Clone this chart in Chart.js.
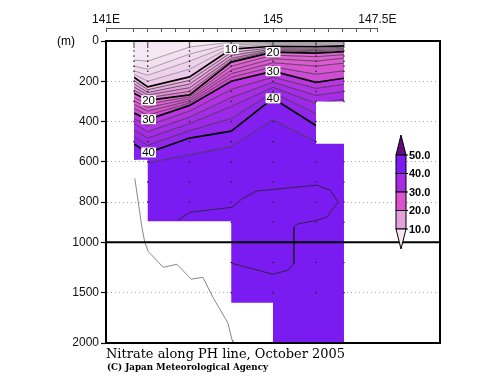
<!DOCTYPE html>
<html>
<head>
<meta charset="utf-8">
<script src="https://cdn.jsdelivr.net/npm/chart.js@4.4.0/dist/chart.umd.min.js"></script>
<style>
  html, body { margin: 0; padding: 0; background: #fff; }
</style>
</head>
<body>
<canvas id="section" width="500" height="387"></canvas>
<script>
// stations along the PH line (deg E)
var stationLon = [141.67, 142.0, 143.0, 144.0, 145.0, 146.03, 146.7];

// nitrate contour levels and their depth (m) at each station
var contourLevels = [2, 4, 6, 8, 10, 12, 14, 16, 18, 20, 22, 24, 26, 28, 30, 32, 34, 36, 38, 40, 42];
var contourDepths = [
  [95, 100, 30, 6, 3, 3, 3],
  [125, 140, 65, 12, 7, 7, 6],
  [148, 170, 100, 20, 12, 12, 10],
  [165, 200, 140, 30, 18, 18, 15],
  [180, 228, 178, 40, 26, 28, 24],
  [196, 242, 196, 57, 33, 36, 31],
  [212, 256, 214, 72, 39, 42, 37],
  [228, 268, 232, 86, 44, 48, 43],
  [244, 282, 250, 96, 49, 54, 48],
  [260, 295, 268, 105, 55, 60, 53],
  [280, 312, 278, 125, 70, 78, 68],
  [298, 330, 288, 145, 88, 100, 85],
  [315, 348, 298, 162, 108, 125, 110],
  [335, 368, 308, 180, 128, 165, 148],
  [358, 390, 320, 200, 150, 205, 185],
  [385, 420, 348, 240, 180, 235, 215],
  [410, 450, 378, 280, 205, 270, 250],
  [440, 482, 410, 325, 230, 310, 290],
  [475, 518, 445, 385, 256, 362, 350],
  [512, 555, 482, 448, 285, 420, 420],
  [588, 605, 565, 525, 392, 500, 500]
];

// deep closed contour and the stray line in the empty area
var loopLon = [142.72, 143.01, 144.01, 144.28, 144.61, 146.05, 146.37, 146.56, 146.29, 146.05, 145.57, 145.50, 145.50, 145.36, 145.0, 144.01];
var loopDepth = [891, 851, 826, 781, 745, 716, 741, 800, 874, 891, 910, 924, 1208, 1277, 1317, 1208];
var strayLon = [141.69, 141.86, 141.93, 142.01, 142.37, 142.70, 143.04, 143.32, 143.56, 143.92, 144.02, 144.04];
var strayDepth = [682, 925, 1000, 1089, 1248, 1218, 1366, 1347, 1545, 1802, 1970, 2000];

// where there is data (lon range x depth range)
var coverLon0 = [141.67, 142.0, 144.0, 145.0, 146.03, 146.03];
var coverLon1 = [142.0, 144.0, 145.0, 146.03, 146.7, 146.7];
var coverTop = [0, 0, 0, 0, 0, 510];
var coverBottom = [590, 895, 1600, 2000, 300, 2000];

// bottle depths
var sampleDepths = [0, 10, 20, 30, 50, 75, 100, 125, 150, 200, 250, 300, 400, 500, 600, 700, 800, 900, 1200, 1500];

// axes
var lonTicks = [141, 141.6667, 142, 142.3333, 142.6667, 143, 143.3333, 143.6667, 144, 144.3333, 144.6667, 145,
  145.3333, 145.6667, 146, 146.3333, 146.6667, 147, 147.3333, 147.5];
var lonLabelAt = [141, 145, 147.5];
var lonLabels = ['141E', '145', '147.5E'];
var depthTicks = [0, 200, 400, 600, 800, 1000, 1500, 2000];
var dottedDepths = [200, 400, 600, 800, 1500];

// contour labels
var labelLevels = [10, 20, 30, 40, 20, 30, 40];
var labelLon = [144.0, 145.0, 145.0, 145.0, 142.02, 142.02, 142.02];

// colour bar
var cbLabels = ['50.0', '40.0', '30.0', '20.0', '10.0'];

var bandColors = ['#f6e7f4', '#f4e0f1', '#f2d9ee', '#f0d1eb', '#eec9e9', '#ebb8e4', '#e9aae1', '#e79cdd',
  '#e58ed9', '#e380d6', '#e168d3', '#df60d2', '#dc5ad2', '#d754d3', '#cf4dd4', '#b936e1', '#b032e3',
  '#a62de6', '#9c29e8', '#9226eb', '#8420ef'];
var deepColor = '#7a1bf2';
var cbColors = ['#7b1af2', '#a92ae3', '#dd52cf', '#e4a2dc'];

// depth axis is squeezed by half below 1000 m
function toAxis(d) { return d <= 1000 ? d : 1000 + (d - 1000) / 2; }
function fromAxis(v) { return v <= 1000 ? v : 1000 + (v - 1000) * 2; }

function depthAt(level, lon) {
  var row = contourDepths[contourLevels.indexOf(level)];
  for (var j = 0; j < stationLon.length - 1; j++) {
    if (lon >= stationLon[j] && lon <= stationLon[j + 1]) {
      var t = (lon - stationLon[j]) / (stationLon[j + 1] - stationLon[j]);
      return row[j] + t * (row[j + 1] - row[j]);
    }
  }
  return row[0];
}

function covered(lon, d) {
  for (var i = 0; i < coverLon0.length; i++) {
    if (lon >= coverLon0[i] && lon <= coverLon1[i] && d >= coverTop[i] && d <= coverBottom[i]) return true;
  }
  return false;
}

var datasets = [];
datasets.push({
  label: 'surface',
  data: stationLon.map(function (lon) { return {x: lon, y: toAxis(0)}; }),
  borderColor: 'rgba(0,0,0,0)', borderWidth: 0, pointRadius: 0, fill: false, order: 3
});
contourLevels.forEach(function (lev, i) {
  var thick = lev % 10 === 0;
  datasets.push({
    label: 'NO3 ' + lev,
    data: stationLon.map(function (lon, j) { return {x: lon, y: toAxis(contourDepths[i][j])}; }),
    fill: '-1',
    backgroundColor: bandColors[i],
    borderColor: thick ? '#000' : (lev < 10 ? '#808080' : '#2a2a2a'),
    borderWidth: thick ? 1.7 : 0.7,
    pointRadius: 0,
    order: 3
  });
});
datasets.push({
  label: 'bottom',
  data: stationLon.map(function (lon) { return {x: lon, y: toAxis(2000)}; }),
  fill: '-1', backgroundColor: deepColor,
  borderColor: 'rgba(0,0,0,0)', borderWidth: 0, pointRadius: 0, order: 3
});

var samples = [];
stationLon.forEach(function (lon) {
  sampleDepths.forEach(function (d) {
    if (covered(lon, d)) samples.push({x: lon, y: toAxis(d)});
  });
});
datasets.push({
  label: 'bottles', data: samples, showLine: false,
  pointRadius: 0.8, pointBackgroundColor: '#222', pointBorderWidth: 0, order: 2
});
datasets.push({
  label: 'deep', data: loopLon.map(function (lon, i) { return {x: lon, y: toAxis(loopDepth[i])}; }),
  borderColor: '#222', borderWidth: 0.8, pointRadius: 0, fill: false, order: 1
});
datasets.push({
  label: 'stray', data: strayLon.map(function (lon, i) { return {x: lon, y: toAxis(strayDepth[i])}; }),
  borderColor: '#7a7a7a', borderWidth: 0.9, pointRadius: 0, fill: false, order: 1
});

// fills only inside the sampled area
var coverClip = {
  id: 'coverClip',
  beforeDatasetsDraw: function (chart) {
    var ctx = chart.ctx, xs = chart.scales.x, ys = chart.scales.y;
    ctx.save();
    ctx.beginPath();
    for (var i = 0; i < coverLon0.length; i++) {
      var x0 = xs.getPixelForValue(coverLon0[i]), x1 = xs.getPixelForValue(coverLon1[i]);
      var y0 = ys.getPixelForValue(toAxis(coverTop[i])), y1 = ys.getPixelForValue(toAxis(coverBottom[i]));
      ctx.rect(x0, y0, x1 - x0, y1 - y0);
    }
    ctx.clip();
  },
  afterDatasetDraw: function (chart, args) {
    if (args.index === 0) chart.ctx.restore();
  }
};

function fitText(ctx, text, font, x, y, width) {
  ctx.save();
  ctx.font = font;
  var w = ctx.measureText(text).width;
  ctx.translate(x, y);
  ctx.scale(width / w, 1);
  ctx.textAlign = 'left';
  ctx.textBaseline = 'alphabetic';
  ctx.fillStyle = '#000';
  ctx.fillText(text, 0, 0);
  ctx.restore();
}

var decorations = {
  id: 'decorations',
  afterDatasetsDraw: function (chart) {
    var ctx = chart.ctx, xs = chart.scales.x, ys = chart.scales.y, a = chart.chartArea;
    // 1000 m break line
    var yb = ys.getPixelForValue(toAxis(1000));
    ctx.save();
    ctx.strokeStyle = '#000';
    ctx.lineWidth = 2;
    ctx.beginPath();
    ctx.moveTo(a.left, yb);
    ctx.lineTo(a.right, yb);
    ctx.stroke();
    // contour labels
    ctx.font = '11.5px "Liberation Sans", Arial, sans-serif';
    ctx.textAlign = 'center';
    ctx.textBaseline = 'middle';
    for (var i = 0; i < labelLevels.length; i++) {
      var px = xs.getPixelForValue(labelLon[i]);
      var py = ys.getPixelForValue(toAxis(depthAt(labelLevels[i], labelLon[i])));
      var txt = String(labelLevels[i]);
      var w = ctx.measureText(txt).width + 2;
      ctx.fillStyle = '#fff';
      ctx.fillRect(px - w / 2, py - 5, w, 10);
      ctx.fillStyle = '#000';
      ctx.fillText(txt, px, py + 0.5);
    }
    ctx.restore();
  },
  afterDraw: function (chart) {
    var ctx = chart.ctx, xs = chart.scales.x;
    ctx.save();
    // longitude axis line above the frame
    var ya = xs.bottom - 13 + 0.5;
    ctx.strokeStyle = '#555';
    ctx.lineWidth = 1;
    ctx.beginPath();
    ctx.moveTo(xs.getPixelForValue(141), ya);
    ctx.lineTo(xs.getPixelForValue(147.5), ya);
    ctx.stroke();
    // unit
    ctx.fillStyle = '#000';
    ctx.font = '12px "Liberation Sans", Arial, sans-serif';
    ctx.textAlign = 'center';
    ctx.textBaseline = 'middle';
    ctx.fillText('(m)', 66, 42);
    // colour bar
    var left = 396, right = 406, top = 155, step = 18.5, tip = 20, mid = (left + right) / 2;
    ctx.strokeStyle = '#000';
    ctx.lineWidth = 1;
    ctx.beginPath();
    ctx.moveTo(left, top); ctx.lineTo(mid, top - tip); ctx.lineTo(right, top); ctx.closePath();
    ctx.fillStyle = '#65097f'; ctx.fill(); ctx.stroke();
    for (var i = 0; i < cbColors.length; i++) {
      ctx.fillStyle = cbColors[i];
      ctx.fillRect(left, top + i * step, right - left, step);
      ctx.strokeRect(left, top + i * step, right - left, step);
    }
    var bot = top + cbColors.length * step;
    ctx.beginPath();
    ctx.moveTo(left, bot); ctx.lineTo(mid, bot + tip); ctx.lineTo(right, bot); ctx.closePath();
    ctx.fillStyle = '#f6e6f3'; ctx.fill(); ctx.stroke();
    ctx.font = 'bold 11px "Liberation Sans", Arial, sans-serif';
    ctx.textAlign = 'left';
    ctx.fillStyle = '#000';
    for (var k = 0; k < cbLabels.length; k++) {
      var yy = top + k * step;
      ctx.beginPath(); ctx.moveTo(right, yy); ctx.lineTo(right + 2, yy); ctx.stroke();
      ctx.fillText(cbLabels[k], right + 3, yy + 0.5);
    }
    ctx.restore();
    // captions
    fitText(ctx, 'Nitrate along PH line, October 2005', '13px "DejaVu Serif", serif', 106, 357.5, 239);
    fitText(ctx, '(C) Japan Meteorological Agency', 'bold 10px "DejaVu Serif", serif', 107, 370, 161);
  }
};

Chart.defaults.font.family = '"Liberation Sans", Arial, sans-serif';

new Chart(document.getElementById('section'), {
  type: 'line',
  data: { datasets: datasets },
  options: {
    responsive: false,
    animation: false,
    events: [],
    layout: { padding: 0 },
    plugins: { legend: { display: false }, tooltip: { enabled: false } },
    scales: {
      x: {
        type: 'linear', position: 'top', min: 141, max: 149,
        afterBuildTicks: function (s) { s.ticks = lonTicks.map(function (v) { return {value: v}; }); },
        afterFit: function (s) { s.height = 41; },
        ticks: {
          autoSkip: false, maxRotation: 0, padding: 1, color: '#111',
          font: { size: 12 },
          callback: function (v) {
            for (var i = 0; i < lonLabelAt.length; i++) {
              if (Math.abs(v - lonLabelAt[i]) < 1e-3) return lonLabels[i];
            }
            return '';
          }
        },
        grid: { drawOnChartArea: false, drawTicks: true, tickLength: 13, tickColor: '#555', tickWidth: 1, tickBorderDash: [4, 40] },
        border: { display: true, color: '#000', width: 2, z: 1 }
      },
      y: {
        type: 'linear', position: 'left', reverse: true, min: 0, max: 1500,
        afterBuildTicks: function (s) { s.ticks = depthTicks.map(function (d) { return {value: toAxis(d)}; }); },
        afterFit: function (s) { s.width = 106; },
        ticks: {
          padding: 2, color: '#111', font: { size: 12 },
          callback: function (v) { return String(fromAxis(v)); }
        },
        grid: {
          color: function (c) {
            return c.tick && dottedDepths.indexOf(fromAxis(c.tick.value)) >= 0 ? '#a8a8a8' : 'rgba(0,0,0,0)';
          },
          lineWidth: 1, drawTicks: true, tickLength: 5, tickColor: '#000', tickWidth: 1.2
        },
        border: { display: true, color: '#000', width: 2, dash: [1, 3], z: 1 }
      },
      yr: {
        type: 'linear', position: 'right', min: 0, max: 1,
        afterFit: function (s) { s.width = 60; },
        ticks: { display: false }, grid: { display: false, drawTicks: false },
        border: { display: true, color: '#000', width: 2, z: 1 }
      },
      xb: {
        type: 'linear', position: 'bottom', min: 0, max: 1,
        afterFit: function (s) { s.height = 44; },
        ticks: { display: false }, grid: { display: false, drawTicks: false },
        border: { display: true, color: '#000', width: 2, z: 1 }
      }
    }
  },
  plugins: [coverClip, decorations]
});
</script>
</body>
</html>
